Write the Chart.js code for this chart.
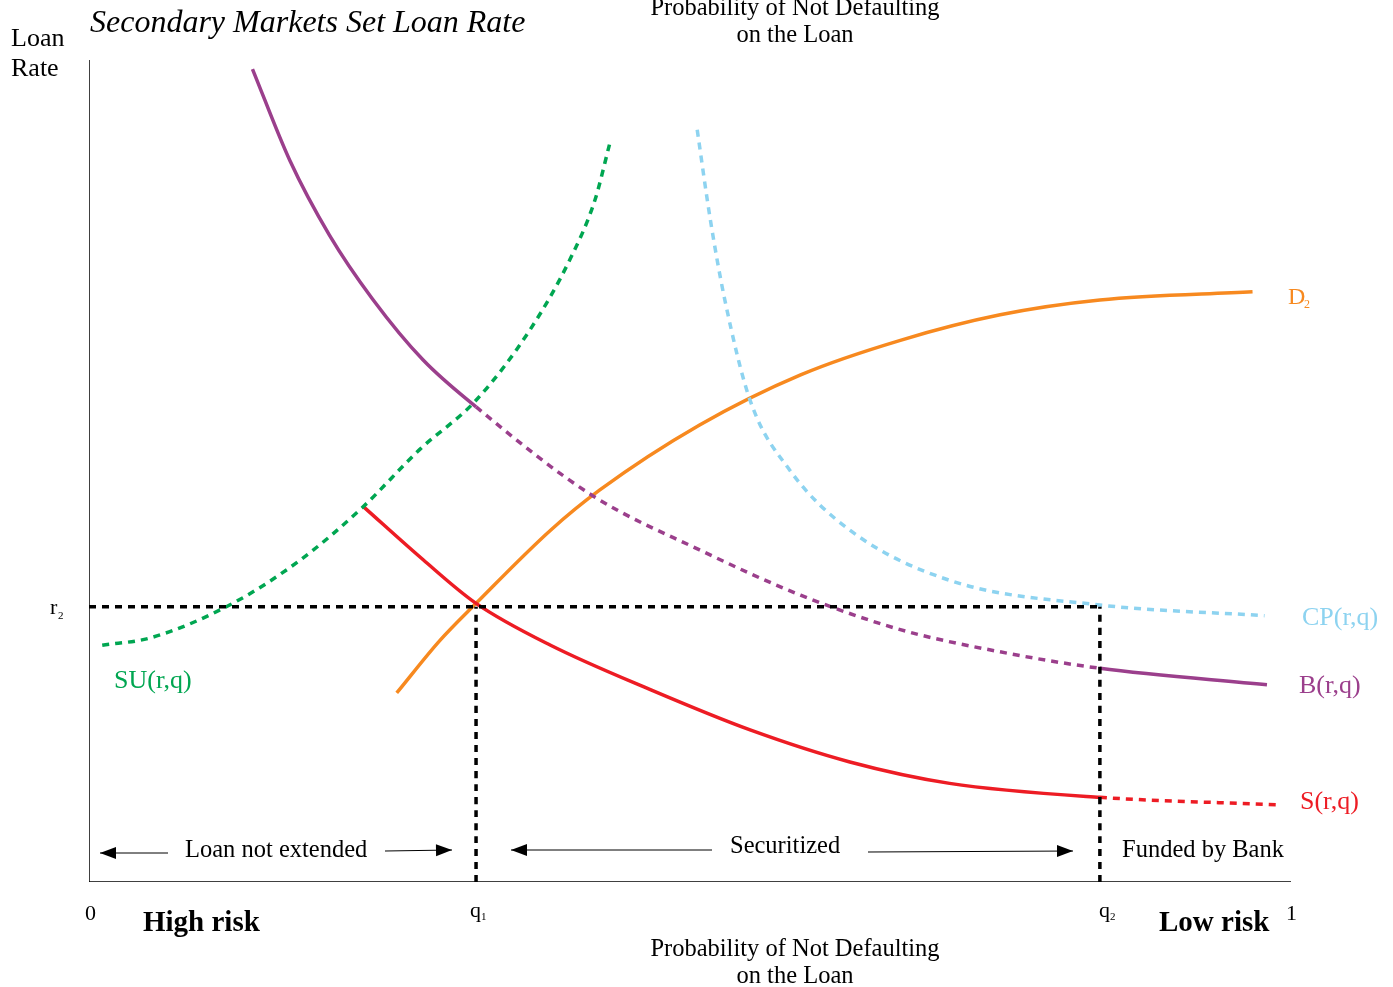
<!DOCTYPE html>
<html><head><meta charset="utf-8">
<script src="https://cdn.jsdelivr.net/npm/chart.js@4/dist/chart.umd.min.js"></script>
<style>html,body{margin:0;padding:0;background:#fff}#wrap{width:1393px;height:987px}</style>
</head><body><div id="wrap"><canvas id="c"></canvas></div>
<script>
// Data (x = probability of not defaulting 0..1, y = loan rate 0..1)
const q1 = 0.322, q2 = 0.841, r2 = 0.335;
const bX  = [0.136,0.167,0.200,0.236,0.278,0.322,0.419,0.508,0.592,0.675,0.758,0.841,0.980];
const bY  = [0.989,0.878,0.787,0.709,0.635,0.578,0.470,0.404,0.349,0.307,0.280,0.260,0.240];
const suX = [0.011,0.051,0.117,0.176,0.227,0.275,0.322,0.367,0.400,0.421,0.433];
const suY = [0.288,0.297,0.337,0.392,0.455,0.526,0.586,0.672,0.757,0.830,0.897];
const sX  = [0.228,0.278,0.322,0.384,0.467,0.550,0.633,0.716,0.841,0.988];
const sY  = [0.457,0.392,0.339,0.288,0.234,0.185,0.146,0.120,0.103,0.094];
const dX  = [0.256,0.292,0.322,0.384,0.425,0.508,0.592,0.675,0.758,0.841,0.968];
const dY  = [0.230,0.294,0.339,0.428,0.477,0.556,0.617,0.659,0.690,0.708,0.718];
const cpX = [0.506,0.517,0.529,0.550,0.583,0.633,0.716,0.841,0.978];
const cpY = [0.915,0.805,0.708,0.586,0.501,0.428,0.367,0.337,0.324];

const pts=(xs,ys)=>xs.map((x,i)=>({x,y:ys[i]}));
const PUR='#9b3f8c',GRN='#00a651',RED='#ed1c24',ORG='#f7891f',LB='#8dd3f0';
const DOT=[7,6];
const ds=(data,color,dash,w,seg)=>({data,borderColor:color,borderWidth:w||3,borderDash:dash||[],pointRadius:0,fill:false,
  cubicInterpolationMode:'monotone',showLine:true,segment:seg||{}});
const dashIf=f=>({borderDash:ctx=>f(ctx.p0.parsed.x,ctx.p1.parsed.x)?DOT:undefined});
const datasets=[
  ds([{x:0,y:0},{x:0,y:1}],'#000',null,1.5),
  ds([{x:0,y:0},{x:1,y:0}],'#000',null,1.5),
  ds([{x:0,y:r2},{x:q2,y:r2}],'#000',DOT,3.5),
  ds([{x:q1,y:0},{x:q1,y:r2}],'#000',DOT,3.5),
  ds([{x:q2,y:0},{x:q2,y:r2}],'#000',DOT,3.5),
  ds(pts(cpX,cpY),LB,DOT,3.5),
  ds(pts(suX,suY),GRN,DOT,3.5),
  ds(pts(bX,bY),PUR,null,3.5,dashIf((a,b)=>a>=q1&&b<=q2)),
  ds(pts(sX,sY),RED,null,3.5,dashIf((a,b)=>a>=q2)),
  ds(pts(dX,dY),ORG,null,3.5),
];

const F='"Liberation Serif","Times New Roman",serif';
const textPlugin={id:'txt',afterDraw(ch){
  const c=ch.ctx;c.save();c.textBaseline='alphabetic';
  const t=(s,x,y,size,color,style,align)=>{c.font=(style||'')+' '+size+'px '+F;c.fillStyle=color||'#000';c.textAlign=align||'left';c.fillText(s,x,y);};
  t('Loan',11,46,26);t('Rate',11,76,26);
  t('Secondary Markets Set Loan Rate',90,32,32,'#000','italic');
  t('Probability of Not Defaulting',795,15,24.5,'#000','',"center");
  t('on the Loan',795,42,24.5,'#000','',"center");
  t('Probability of Not Defaulting',795,956,24.5,'#000','',"center");
  t('on the Loan',795,983,24.5,'#000','',"center");
  t('0',85,920,22);t('1',1286,920,22);
  t('q',470,917,22);t('1',481,920,11);
  t('q',1099,917,22);t('2',1110,920,11);
  t('r',50,614,22);t('2',58,619,11);
  t('High risk',143,931,29,'#000','bold');
  t('Low risk',1159,931,29,'#000','bold');
  t('D',1288,304,24,ORG);t('2',1304,308,12,ORG);
  t('CP(r,q)',1302,625,26,LB);
  t('B(r,q)',1299,693,26,PUR);
  t('S(r,q)',1300,809,26,RED);
  t('SU(r,q)',114,688,26,GRN);
  t('Loan not extended',185,857,24.5);
  t('Securitized',730,853,24.5);
  t('Funded by Bank',1122,857,24.5);
  const arr=(x1,y1,x2,y2)=>{c.strokeStyle='#000';c.fillStyle='#000';c.lineWidth=1;c.beginPath();c.moveTo(x1,y1);c.lineTo(x2,y2);c.stroke();
    const a=Math.atan2(y2-y1,x2-x1),L=16,W=6;c.beginPath();c.moveTo(x2,y2);
    c.lineTo(x2-L*Math.cos(a)+W*Math.sin(a),y2-L*Math.sin(a)-W*Math.cos(a));
    c.lineTo(x2-L*Math.cos(a)-W*Math.sin(a),y2-L*Math.sin(a)+W*Math.cos(a));c.closePath();c.fill();};
  arr(168,853,100,853);arr(385,851,452,850);arr(712,850,511,850);arr(868,852,1073,851);
  c.restore();}};

new Chart(document.getElementById('c'),{type:'scatter',data:{datasets},
 options:{responsive:true,maintainAspectRatio:false,animation:false,
  layout:{padding:{left:89,right:102,top:60,bottom:105}},
  plugins:{legend:{display:false},tooltip:{enabled:false}},
  scales:{x:{type:'linear',min:0,max:1,display:false},y:{type:'linear',min:0,max:1,display:false}}},
 plugins:[textPlugin]});
</script></body></html>
